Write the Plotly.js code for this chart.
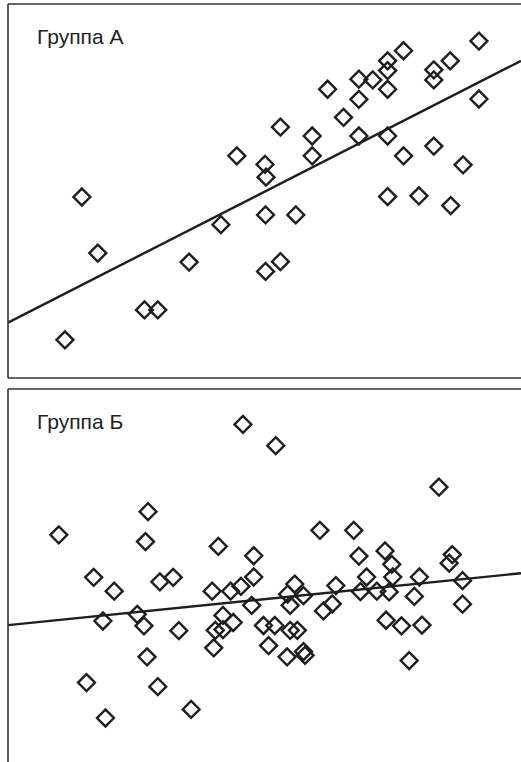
<!DOCTYPE html>
<html>
<head>
<meta charset="utf-8">
<script src="https://cdn.plot.ly/plotly-3.0.1.min.js"></script>
<style>html,body{margin:0;padding:0;background:#fff;}#chart{width:521px;height:762px;}</style>
</head>
<body>
<div id="chart"></div>
<script>
// Panel labels
const labelA = "Группа А";
const labelB = "Группа Б";

// Group A data
const groupA_x = [11.1,14.4,17.5,26.6,29.2,35.3,41.5,44.6,50.2,50.2,50.3,50.1,53.1,53.1,56.1,59.3,59.3,62.3,65.4,68.4,68.4,68.4,71.1,74.0,74.0,74.0,74.0,74.0,77.1,77.1,80.1,83.0,83.0,83.0,86.2,86.3,88.7,91.8,91.8];
const groupA_y = [10.2,48.4,33.4,18.2,18.2,31.0,41.0,59.4,28.5,43.6,53.7,57.1,31.1,67.1,43.6,59.4,64.7,77.2,69.7,64.7,74.5,79.9,79.7,64.7,48.5,77.2,82.2,84.8,87.5,59.4,48.7,62.0,79.7,82.4,84.8,46.1,57.0,90.1,74.6];
const fitA_x = [0, 100];
const fitA_y = [14.8, 84.8];

// Group B data
const groupB_x = [9.9,15.3,16.7,18.5,19.0,20.7,25.2,26.5,26.8,27.1,27.3,29.2,29.6,32.2,33.3,35.7,39.8,40.1,40.4,41.0,41.9,41.9,43.4,43.9,45.4,45.8,47.5,47.9,47.9,49.8,50.8,52.0,52.2,54.4,54.5,55.0,55.0,55.9,56.4,57.6,57.6,57.9,60.8,61.5,63.2,63.9,67.4,68.4,68.7,69.9,71.9,73.5,73.7,74.3,74.8,75.0,76.7,78.2,79.2,80.2,80.7,84.0,86.0,86.6,88.6,88.6];
const groupB_y = [60.9,21.3,49.5,37.8,11.8,45.8,39.6,36.5,59.1,28.2,67.1,20.2,48.3,49.5,35.2,14.1,45.8,30.6,35.3,57.8,39.3,35.5,45.8,37.4,47.1,90.5,42.0,49.6,55.3,36.6,31.2,36.6,84.8,28.2,45.0,42.0,35.3,47.7,35.3,44.6,29.6,28.6,62.1,40.5,42.4,47.3,62.1,55.2,45.7,49.6,45.8,56.6,38.0,45.6,53.0,49.6,36.5,27.2,44.4,49.6,36.7,73.7,53.3,55.6,48.6,42.3];
const fitB_x = [0, 100];
const fitB_y = [36.7, 50.6];

const markerStyle = {symbol: 'diamond-open', size: 13, color: '#1e1e1e', line: {width: 2.4, color: '#1e1e1e'}};
const lineStyle = {color: '#1e1e1e', width: 2.4};

const traces = [
  {x: fitA_x, y: fitA_y, mode: 'lines', line: lineStyle, xaxis: 'x', yaxis: 'y', hoverinfo: 'skip'},
  {x: groupA_x, y: groupA_y, mode: 'markers', marker: markerStyle, xaxis: 'x', yaxis: 'y'},
  {x: fitB_x, y: fitB_y, mode: 'lines', line: lineStyle, xaxis: 'x2', yaxis: 'y2', hoverinfo: 'skip'},
  {x: groupB_x, y: groupB_y, mode: 'markers', marker: markerStyle, xaxis: 'x2', yaxis: 'y2'}
];

const W = 521, H = 762;
const xL = 8 / W;
const aTop = (H - 4) / H, aBot = (H - 378) / H;
const bTop = (H - 389) / H, bBot = 0;

const axisBase = {showgrid: false, zeroline: false, showticklabels: false, ticks: '', showline: false, fixedrange: true};
const borderColor = '#333333';
const bw = 1.6;

const labelFont = {family: 'Liberation Sans, Arial, sans-serif', size: 21, color: '#222222'};

const layout = {
  width: W, height: H,
  margin: {l: 0, r: 0, t: 0, b: 0},
  paper_bgcolor: '#ffffff', plot_bgcolor: '#ffffff',
  showlegend: false,
  xaxis: Object.assign({}, axisBase, {domain: [xL, 1], range: [0, 100], anchor: 'y'}),
  yaxis: Object.assign({}, axisBase, {domain: [aBot, aTop], range: [0, 100], anchor: 'x'}),
  xaxis2: Object.assign({}, axisBase, {domain: [xL, 1], range: [0, 100], anchor: 'y2'}),
  yaxis2: Object.assign({}, axisBase, {domain: [bBot, bTop], range: [0, 100], anchor: 'x2'}),
  shapes: [
    {type: 'line', xref: 'paper', yref: 'paper', x0: xL, x1: xL, y0: aBot, y1: aTop, line: {color: borderColor, width: bw}},
    {type: 'line', xref: 'paper', yref: 'paper', x0: xL, x1: 1, y0: aTop, y1: aTop, line: {color: borderColor, width: bw}},
    {type: 'line', xref: 'paper', yref: 'paper', x0: xL, x1: 1, y0: aBot, y1: aBot, line: {color: borderColor, width: bw}},
    {type: 'line', xref: 'paper', yref: 'paper', x0: xL, x1: xL, y0: bBot, y1: bTop, line: {color: borderColor, width: bw}},
    {type: 'line', xref: 'paper', yref: 'paper', x0: xL, x1: 1, y0: bTop, y1: bTop, line: {color: borderColor, width: bw}}
  ],
  annotations: [
    {text: labelA, xref: 'paper', yref: 'paper', x: 34.5 / W, y: (H - 36.5) / H, xanchor: 'left', yanchor: 'middle', showarrow: false, font: labelFont},
    {text: labelB, xref: 'paper', yref: 'paper', x: 34.5 / W, y: (H - 421) / H, xanchor: 'left', yanchor: 'middle', showarrow: false, font: labelFont}
  ]
};

Plotly.newPlot('chart', traces, layout, {staticPlot: true, displayModeBar: false});
</script>
</body>
</html>
